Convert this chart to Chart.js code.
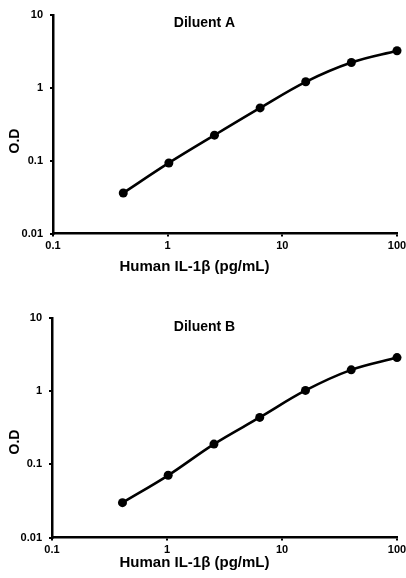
<!DOCTYPE html>
<html>
<head>
<meta charset="utf-8">
<script src="https://cdn.jsdelivr.net/npm/chart.js@4"></script>
<style>
  html, body { margin: 0; padding: 0; background: #fff; overflow: hidden; width: 406px; height: 578px; }
  .panel { position: absolute; left: 0; }
  canvas { display: block; }
</style>
</head>
<body>
<div class="panel" style="top:0"><canvas id="chart-a" width="416" height="290"></canvas></div>
<div class="panel" style="top:290px"><canvas id="chart-b" width="416" height="288"></canvas></div>
<script>
// ELISA standard curves, Human IL-1β
const concentrations = [0.41, 1.024, 2.56, 6.4, 16, 40, 100];
const odDiluentA = [0.036, 0.093, 0.224, 0.53, 1.21, 2.23, 3.23];
const odDiluentB = [0.030, 0.071, 0.19, 0.44, 1.03, 1.97, 2.9];
const xTicks = [0.1, 1, 10, 100];
const yTicks = [0.01, 0.1, 1, 10];
const xTitle = 'Human IL-1β (pg/mL)';
const yTitle = 'O.D';

const FONT = 'Arial, "Liberation Sans", sans-serif';

// panel title + axis titles are placed like the Excel original (not centered on the plot)
const labelsPlugin = {
    id: 'panelLabels',
    afterDraw(chart, args, opts) {
        const c = chart.ctx;
        c.save();
        c.fillStyle = '#000';
        c.textAlign = 'center';
        c.textBaseline = 'middle';
        c.font = 'bold 14px ' + FONT;
        c.fillText(opts.title, 204.5, opts.titleY);
        c.font = 'bold 15px ' + FONT;
        c.fillText(xTitle, 194.5, opts.xTitleY);
        c.translate(15, opts.yTitleY);
        c.rotate(-Math.PI / 2);
        c.font = 'bold 14px ' + FONT;
        c.fillText(yTitle, 0, 0);
        c.restore();
    }
};

function makeChart(id, values, cfg) {
    const ctx = document.getElementById(id);
    const axisFont = { family: FONT, size: 11, weight: 'bold' };
    return new Chart(ctx, {
        type: 'line',
        data: {
            datasets: [{
                data: concentrations.map((x, i) => ({ x, y: values[i] })),
                borderColor: '#000',
                backgroundColor: '#000',
                borderWidth: 2.6,
                pointRadius: 4.5,
                pointBackgroundColor: '#000',
                pointBorderWidth: 0,
                tension: 0.35,
                clip: false
            }]
        },
        options: {
            responsive: false,
            animation: false,
            devicePixelRatio: 1,
            layout: { padding: { top: cfg.top, left: 0, right: 19, bottom: 0 } },
            plugins: {
                legend: { display: false },
                tooltip: { enabled: false },
                panelLabels: { title: cfg.title, titleY: cfg.titleY, xTitleY: cfg.xTitleY, yTitleY: cfg.yTitleY }
            },
            scales: {
                x: {
                    type: 'logarithmic',
                    min: 0.1,
                    max: 100,
                    afterBuildTicks: s => { s.ticks = xTicks.map(v => ({ value: v })); },
                    afterFit: s => { s.height = cfg.xHeight; },
                    border: { display: true, color: '#000', width: 2.5 },
                    grid: { drawOnChartArea: false, drawTicks: true, tickLength: 3, color: '#000', lineWidth: 2 },
                    ticks: { color: '#000', font: axisFont, padding: 3, maxRotation: 0, autoSkip: false, callback: v => String(v) }
                },
                y: {
                    type: 'logarithmic',
                    min: 0.01,
                    max: 10,
                    afterBuildTicks: s => { s.ticks = yTicks.map(v => ({ value: v })); },
                    afterFit: s => { s.width = cfg.yWidth; },
                    border: { display: true, color: '#000', width: 2.5 },
                    grid: { drawOnChartArea: false, drawTicks: true, tickLength: 3, color: '#000', lineWidth: 2 },
                    ticks: { color: '#000', font: axisFont, padding: 7, autoSkip: false, callback: v => String(v) }
                }
            }
        },
        plugins: [labelsPlugin]
    });
}

makeChart('chart-a', odDiluentA, {
    title: 'Diluent A', top: 15, xHeight: 290 - 233.5, yWidth: 53,
    titleY: 23, xTitleY: 267, yTitleY: 141
});
makeChart('chart-b', odDiluentB, {
    title: 'Diluent B', top: 28.3, xHeight: 288 - 247.5, yWidth: 52,
    titleY: 36.7, xTitleY: 273, yTitleY: 152
});
</script>
</body>
</html>
